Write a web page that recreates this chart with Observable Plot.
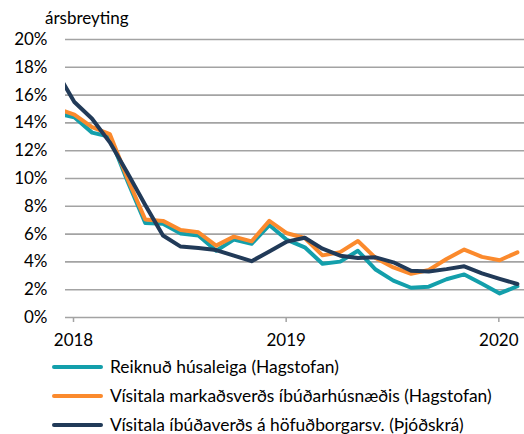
<!DOCTYPE html>
<html><head><meta charset="utf-8">
<script src="https://cdn.jsdelivr.net/npm/d3@7"></script>
<script src="https://cdn.jsdelivr.net/npm/@observablehq/plot@0.6"></script>
<style>
body{margin:0;background:#fff;font-family:Lato,sans-serif;color:#000;}
#wrap{width:524px;}
#title{height:28px;box-sizing:border-box;padding:8px 0 0 45px;line-height:20px;font-size:17px;}
#chart svg{display:block;}
#legend{padding-top:2px;}
.row{height:29px;display:flex;align-items:center;font-size:17.4px;line-height:20px;}
.sw{width:51px;height:4px;margin-left:52px;margin-right:7px;border-radius:2px;}
</style></head><body>
<div id="wrap">
<div id="title">ársbreyting</div>
<div id="chart"></div>
<div id="legend"></div>
</div>
<script>
const months = ["2017-12","2018-01","2018-02","2018-03","2018-04","2018-05","2018-06","2018-07","2018-08","2018-09","2018-10","2018-11","2018-12",
  "2019-01","2019-02","2019-03","2019-04","2019-05","2019-06","2019-07","2019-08","2019-09","2019-10","2019-11","2019-12","2020-01","2020-02"];
const rent = [14.7,14.4,13.3,13.0,9.8,6.8,6.75,6.05,5.9,4.8,5.6,5.3,6.65,5.58,5.05,3.87,4.02,4.8,3.45,2.65,2.14,2.22,2.75,3.1,2.43,1.73,2.25];
const market = [15.05,14.6,13.7,13.2,10.0,7.05,6.95,6.3,6.13,5.17,5.82,5.48,6.95,6.06,5.72,4.47,4.7,5.5,4.28,3.6,3.14,3.42,4.21,4.89,4.36,4.12,4.69];
const registry = [17.7,15.5,14.3,12.6,10.4,8.1,5.9,5.1,5.0,4.85,4.45,4.05,4.75,5.46,5.74,4.95,4.45,4.28,4.33,3.97,3.36,3.31,3.48,3.68,3.18,2.78,2.41];
const seriesNames = ["Reiknuð húsaleiga (Hagstofan)","Vísitala markaðsverðs íbúðarhúsnæðis (Hagstofan)","Vísitala íbúðaverðs á höfuðborgarsv. (Þjóðskrá)"];
const seriesColors = ["#139fab","#fb8a2d","#213a58"];
const yTicks = [0,2,4,6,8,10,12,14,16,18,20];
const yearLabels = ["2018","2019","2020"];

const pos = m => { const [y, mo] = m.split("-").map(Number); return (y - 2018) * 12 + (mo - 1) + 0.5; };
const yearPos = yearLabels.map(y => (Number(y) - 2018) * 12);
const allSeries = [rent, market, registry];
const data = allSeries.flatMap((vals, s) => months.map((m, i) => ({t: pos(m), v: vals[i], s})));

const chart = Plot.plot({
  width: 524, height: 322,
  marginLeft: 65, marginRight: 0, marginTop: 11, marginBottom: 33,
  style: {fontFamily: "Lato, sans-serif", fontSize: "17px", color: "#000", background: "#fff"},
  x: {type: "linear", domain: [0, 25.9]},
  y: {domain: [0, 20]},
  marks: [
    Plot.ruleY(yTicks, {stroke: "#a3a3a3", strokeWidth: 1.6}),
    Plot.axisY(yTicks, {tickSize: 0, tickPadding: 18, tickFormat: d => d + "%", fill: "#000", fontSize: 17, label: null}),
    Plot.axisX(yearPos, {tickSize: 5, tickPadding: 11, stroke: "#a3a3a3", strokeWidth: 1.5, tickFormat: (d, i) => yearLabels[i], dx: 8, fill: "#000", fontSize: 17, label: null}),
    ...allSeries.map((_, s) => Plot.line(data.filter(d => d.s === s), {x: "t", y: "v", stroke: seriesColors[s], strokeWidth: 4, clip: true}))
  ]
});
document.getElementById("chart").appendChild(chart);

const lg = document.getElementById("legend");
seriesNames.forEach((n, i) => {
  const r = document.createElement("div"); r.className = "row";
  const sw = document.createElement("div"); sw.className = "sw"; sw.style.background = seriesColors[i];
  const t = document.createElement("span"); t.textContent = n;
  r.appendChild(sw); r.appendChild(t); lg.appendChild(r);
});
</script>
</body></html>
